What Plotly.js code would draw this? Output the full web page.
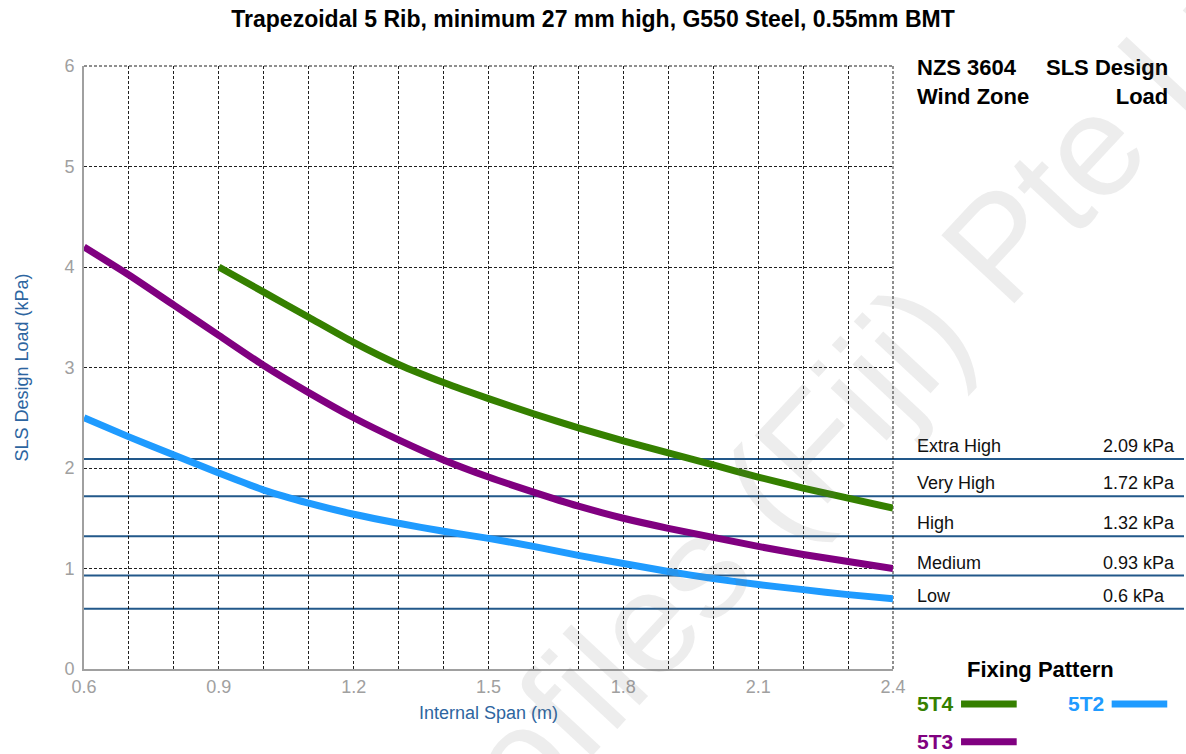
<!DOCTYPE html>
<html>
<head>
<meta charset="utf-8">
<script src="https://cdn.plot.ly/plotly-3.0.1.min.js"></script>
<style>html,body{margin:0;padding:0;background:#fff;}#chart{width:1186px;height:754px;}</style>
</head>
<body>
<div id="chart"></div>
<script>
// ---- data ----
const chartTitle = "Trapezoidal 5 Rib, minimum 27 mm high, G550 Steel, 0.55mm BMT";
const xTitle = "Internal Span (m)";
const yTitle = "SLS Design Load (kPa)";

const seriesNames = ["5T4", "5T3", "5T2"];
const seriesColors = ["#358000", "#800080", "#1f9bff"];

const span5T4 = [0.9, 1.0, 1.1, 1.2, 1.3, 1.4, 1.5, 1.6, 1.7, 1.8, 1.9, 2.0, 2.1, 2.2, 2.3, 2.4];
const load5T4 = [4.00, 3.75, 3.50, 3.25, 3.03, 2.85, 2.69, 2.54, 2.40, 2.27, 2.15, 2.03, 1.91, 1.80, 1.70, 1.60];

const span5T3 = [0.6, 0.7, 0.8, 0.9, 1.0, 1.1, 1.2, 1.3, 1.4, 1.5, 1.6, 1.7, 1.8, 1.9, 2.0, 2.1, 2.2, 2.3, 2.4];
const load5T3 = [4.20, 3.92, 3.62, 3.32, 3.02, 2.75, 2.50, 2.28, 2.08, 1.91, 1.76, 1.62, 1.50, 1.40, 1.31, 1.22, 1.14, 1.07, 1.00];

const span5T2 = [0.6, 0.7, 0.8, 0.9, 1.0, 1.1, 1.2, 1.3, 1.4, 1.5, 1.6, 1.7, 1.8, 1.9, 2.0, 2.1, 2.2, 2.3, 2.4];
const load5T2 = [2.50, 2.31, 2.13, 1.95, 1.78, 1.65, 1.54, 1.45, 1.37, 1.30, 1.22, 1.13, 1.05, 0.97, 0.90, 0.84, 0.79, 0.74, 0.70];

const windZones = ["Extra High", "Very High", "High", "Medium", "Low"];
const windLoads = [2.09, 1.72, 1.32, 0.93, 0.6];
const windLabels = ["2.09 kPa", "1.72 kPa", "1.32 kPa", "0.93 kPa", "0.6 kPa"];

const headerLeft = "NZS 3604<br>Wind Zone";
const headerRight = "SLS Design<br>Load";
const legendTitle = "Fixing Pattern";
const watermark = "Profiles (Fiji) Pte Ltd";

// ---- build ----
const FONT = "Liberation Sans, Arial, Helvetica, sans-serif";
const spans = [span5T4, span5T3, span5T2];
const loads = [load5T4, load5T3, load5T2];

const traces = seriesNames.map((n, i) => ({
  type: "scatter", mode: "lines", name: n,
  x: spans[i], y: loads[i],
  line: {color: seriesColors[i], width: 7, shape: "spline", smoothing: 0.6},
  hoverinfo: "x+y+name"
}));

const gridCol = "rgba(0,0,0,0.88)";
const zoneLineColor = "#22588a";
const shapes = windLoads.map(v => ({
  type: "line", xref: "paper", yref: "y", x0: 0, x1: 1.3597, y0: v, y1: v,
  line: {color: zoneLineColor, width: 2}, layer: "below"
}));
// dashed frame on top and right (grid lines at the range ends)
shapes.push({type: "line", xref: "paper", yref: "paper", x0: 0, x1: 1, y0: 1, y1: 1,
  line: {color: gridCol, width: 1, dash: "3px,2px"}, layer: "below"});
shapes.push({type: "line", xref: "paper", yref: "paper", x0: 1, x1: 1, y0: 0, y1: 1,
  line: {color: gridCol, width: 1, dash: "3px,2px"}, layer: "below"});

const annotations = [];
windZones.forEach((z, i) => {
  annotations.push({xref: "paper", yref: "y", x: 1.0272, y: windLoads[i], xanchor: "left", yanchor: "bottom",
    text: z, showarrow: false, font: {family: FONT, size: 18, color: "#111"}, yshift: 1});
  annotations.push({xref: "paper", yref: "y", x: 1.2571, y: windLoads[i], xanchor: "left", yanchor: "bottom",
    text: windLabels[i], showarrow: false, font: {family: FONT, size: 18, color: "#111"}, yshift: 1});
});
annotations.push({xref: "paper", yref: "paper", x: 1.0272, y: 0.9735, xanchor: "left", yanchor: "middle", align: "left",
  text: "<b>" + headerLeft + "</b>", showarrow: false, font: {family: FONT, size: 22, color: "#000"}});
annotations.push({xref: "paper", yref: "paper", x: 1.3424, y: 0.9735, xanchor: "right", yanchor: "middle", align: "right",
  text: "<b>" + headerRight + "</b>", showarrow: false, font: {family: FONT, size: 22, color: "#000"}});
annotations.push({xref: "paper", yref: "paper", x: 1.1823, y: 0, xanchor: "center", yanchor: "middle",
  text: "<b>" + legendTitle + "</b>", showarrow: false, font: {family: FONT, size: 22, color: "#000"}});

// custom legend
const legPos = [
  {tx: 1.0272, lx0: 1.0841, lx1: 1.1529, y: -0.058},
  {tx: 1.0272, lx0: 1.0841, lx1: 1.1529, y: -0.1206},
  {tx: 1.2134, lx0: 1.2703, lx1: 1.3390, y: -0.058}
];
seriesNames.forEach((n, i) => {
  const p = legPos[i];
  annotations.push({xref: "paper", yref: "paper", x: p.tx, y: p.y, xanchor: "left", yanchor: "middle",
    text: "<b>" + n + "</b>", showarrow: false, font: {family: FONT, size: 21, color: seriesColors[i]}});
  shapes.push({type: "line", xref: "paper", yref: "paper", x0: p.lx0, x1: p.lx1, y0: p.y, y1: p.y,
    line: {color: seriesColors[i], width: 7}});
});

// watermark
annotations.push({xref: "paper", yref: "paper", x: 0.932, y: 0.415, xanchor: "center", yanchor: "middle",
  text: watermark, textangle: -47, showarrow: false,
  font: {family: FONT, size: 145, color: "rgba(110,110,110,0.12)"}});

const layout = {
  width: 1186, height: 754,
  margin: {l: 84, r: 293, t: 66, b: 85},
  paper_bgcolor: "#fff", plot_bgcolor: "#fff",
  showlegend: false,
  title: {text: "<b>" + chartTitle + "</b>", x: 0.5, xref: "container", y: 0.975, yref: "container",
    xanchor: "center", yanchor: "middle", font: {family: FONT, size: 23, color: "#000"}},
  xaxis: {
    range: [0.6, 2.4], tick0: 0.6, dtick: 0.3, tickformat: ".1f",
    showgrid: true, gridcolor: gridCol, griddash: "3px,2px", gridwidth: 1,
    minor: {dtick: 0.1, tick0: 0.6, showgrid: true, gridcolor: gridCol, griddash: "3px,2px", gridwidth: 1},
    showline: true, linecolor: "#a0a0a0", linewidth: 2, zeroline: false,
    ticks: "", ticklabelstandoff: 0,
    tickfont: {family: FONT, size: 18, color: "#a0a0a0"},
    title: {text: xTitle, standoff: 11, font: {family: FONT, size: 18, color: "#2d65a0"}},
    fixedrange: true
  },
  yaxis: {
    range: [0, 6], tick0: 0, dtick: 1,
    showgrid: true, gridcolor: gridCol, griddash: "3px,2px", gridwidth: 1,
    showline: true, linecolor: "#a0a0a0", linewidth: 2, zeroline: false,
    ticks: "", ticklabelstandoff: 4,
    tickfont: {family: FONT, size: 18, color: "#a0a0a0"},
    title: {text: yTitle, standoff: 31, font: {family: FONT, size: 18, color: "#2d65a0"}},
    fixedrange: true
  },
  shapes: shapes,
  annotations: annotations
};

Plotly.newPlot("chart", traces, layout, {displayModeBar: false, staticPlot: true});
</script>
</body>
</html>
